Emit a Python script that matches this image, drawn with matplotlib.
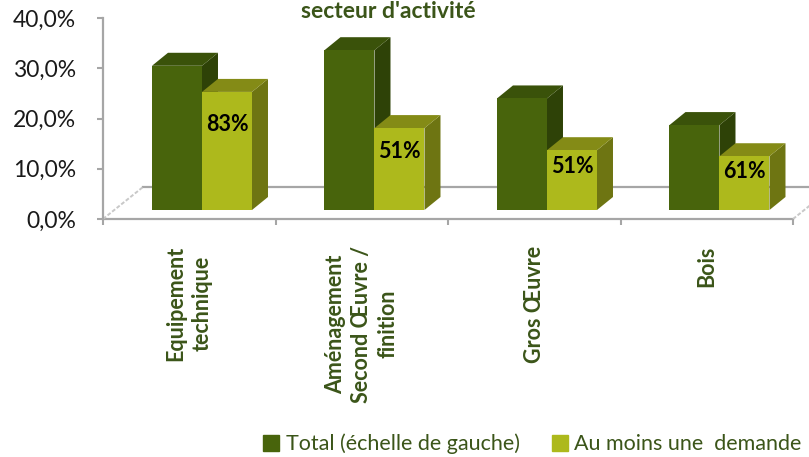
import matplotlib
matplotlib.use('Agg')
import matplotlib.pyplot as plt
from matplotlib.patches import Polygon, Patch

plt.rcParams['font.family'] = ['Lato', 'DejaVu Sans']

# data
categories = ['Equipement\ntechnique', 'Aménagement\nSecond Œuvre /\nfinition',
              'Gros Œuvre', 'Bois']
total = [28.7, 31.8, 22.2, 16.9]          # % (left scale)
au_moins_une = [23.5, 16.3, 11.9, 10.7]   # % bar height
share_labels = ['83%', '51%', '51%', '61%']

# colours (front, top, side)
dark = ('#48640c', '#3a520a', '#2e4207')
light = ('#adb91c', '#848b16', '#6e7512')
green_txt = '#3b5519'
grey = '#a6a6a6'

fig = plt.figure(figsize=(8.09, 4.57), dpi=100)
W, H = 809, 457
px_x = 172.5    # pixels per category
px_y = 5.025    # pixels per percent
ax = fig.add_axes([103 / W, (H - 219) / H, (W - 103) / W, (219 - 18) / H])
ax.set_xlim(0, (W - 103) / px_x)
ax.set_ylim(0, 40)

# fake 3d depth offsets
dx, dy = 16 / px_x, 13 / px_y
base = 9 / px_y            # bars stand a bit behind the front floor edge
bw = 50 / px_x
fx, fy = 40 / px_x, 32 / px_y   # floor depth

# floor
ax.plot([0, 4], [0, 0], color=grey, lw=1.6, clip_on=False, zorder=1)
ax.plot([fx, 4.2], [fy, fy], color=grey, lw=1.6, clip_on=False, zorder=1)
ax.plot([0, fx], [0, fy], color='#c8c8c8', lw=1.4, ls=(0, (2, 1)), clip_on=False, zorder=1)
ax.plot([4, 4 + fx], [0, fy], color='#c8c8c8', lw=1.4, ls=(0, (2, 1)), clip_on=False, zorder=1)


def bar3d(x0, h, cols, z):
    b = base
    x1 = x0 + bw
    ax.bar(x0, h, width=bw, bottom=b, align='edge', color=cols[0], zorder=z + 0.2)
    ax.add_patch(Polygon([(x1, b), (x1 + dx, b + dy), (x1 + dx, b + h + dy), (x1, b + h)],
                         closed=True, color=cols[2], lw=0, zorder=z))
    ax.add_patch(Polygon([(x0, b + h), (x0 + dx, b + h + dy), (x1 + dx, b + h + dy), (x1, b + h)],
                         closed=True, color=cols[1], lw=0, zorder=z + 0.1))


for i in range(len(categories)):
    x_dark = i + 0.284
    x_light = x_dark + bw
    bar3d(x_dark, total[i], dark, 2 + i)
    bar3d(x_light, au_moins_une[i], light, 2.5 + i)
    ax.text(x_light + bw / 2, base + au_moins_une[i] * 0.72, share_labels[i],
            ha='center', va='center', fontsize=15.5, fontweight='bold',
            color='black', zorder=10)

# y axis
ax.set_yticks([0, 10, 20, 30, 40])
ax.set_yticklabels(['0,0%', '10,0%', '20,0%', '30,0%', '40,0%'])
ax.tick_params(axis='y', length=4.5, width=1.5, color=grey, pad=15,
               labelsize=16.5, labelcolor='#1a1a1a')
for s in ['top', 'right', 'bottom']:
    ax.spines[s].set_visible(False)
ax.spines['left'].set_color(grey)
ax.spines['left'].set_linewidth(1.6)

# x axis: boundary ticks + category labels
ax.set_xticks([0, 1, 2, 3, 4])
ax.set_xticklabels([])
ax.tick_params(axis='x', length=4.5, width=1.5, color=grey)
ax.set_xticks([i + 0.5 for i in range(len(categories))], minor=True)
ax.set_xticklabels(categories, minor=True, rotation=90, ha='center', va='top',
                   multialignment='center', fontsize=15.5, fontweight='bold',
                   color=green_txt, linespacing=1.3)
ax.tick_params(axis='x', which='minor', length=0, pad=19)

fig.text(388 / W, (H - 1) / H, "secteur d'activité", ha='center', va='top',
         fontsize=16.5, fontweight='bold', color=green_txt)

handles = [Patch(color=dark[0]), Patch(color=light[0])]
fig.legend(handles, ['Total (échelle de gauche)', 'Au moins une  demande'],
           loc='center left', bbox_to_anchor=(263 / W, (H - 444) / H), ncol=2,
           frameon=False, fontsize=15.5, labelcolor=green_txt, handlelength=0.75,
           handleheight=0.75, handletextpad=0.3, columnspacing=1.5,
           borderaxespad=0, borderpad=0)

fig.savefig('out.png', dpi=100)
